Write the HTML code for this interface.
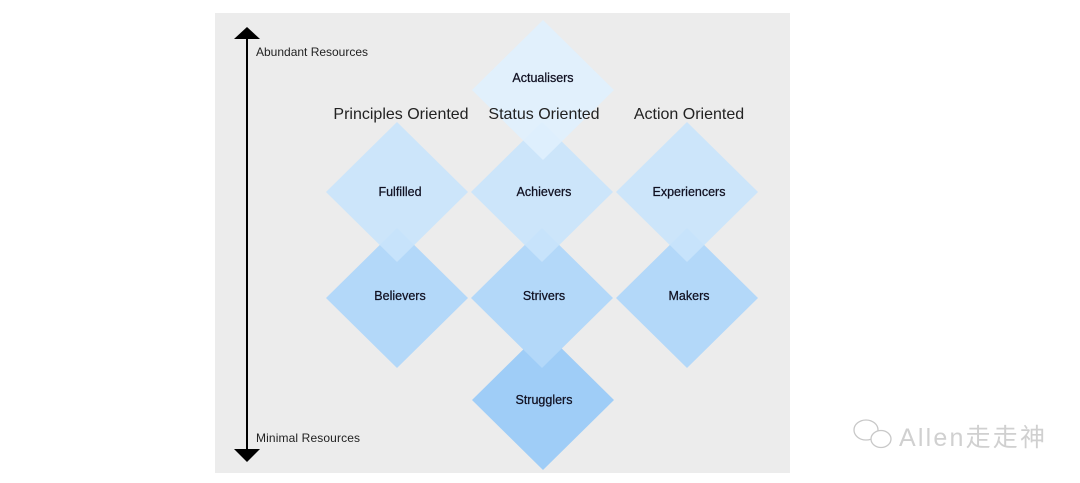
<!DOCTYPE html>
<html><head><meta charset="utf-8"><style>
html,body{margin:0;padding:0;background:#fff;width:1080px;height:483px;overflow:hidden}
</style></head><body>
<svg width="1080" height="483" viewBox="0 0 1080 483" xmlns="http://www.w3.org/2000/svg" font-family="'Liberation Sans', sans-serif">
<rect x="215" y="13" width="575" height="460" fill="#ececec"/>
<polygon points="543,330 614,400 543,470 472,400" fill="#9fcdf7"/>
<polygon points="397,228 468,298 397,368 326,298" fill="#b3d8f9"/>
<polygon points="542,228 613,298 542,368 471,298" fill="#b3d8f9"/>
<polygon points="687,228 758,298 687,368 616,298" fill="#b3d8f9"/>
<polygon points="397,122 468,192 397,262 326,192" fill="#c9e4fb" opacity="0.92"/>
<polygon points="542,122 613,192 542,262 471,192" fill="#c9e4fb" opacity="0.92"/>
<polygon points="687,122 758,192 687,262 616,192" fill="#c9e4fb" opacity="0.92"/>
<polygon points="543,20 614,90 543,160 472,90" fill="#e0f0fd" opacity="0.92"/>
<line x1="247" y1="38" x2="247" y2="452" stroke="#000" stroke-width="2"/>
<polygon points="247,27 260,39 234,39" fill="#000"/>
<polygon points="247,462 260,449 234,449" fill="#000"/>
<g font-size="12" fill="#222">
<text x="256" y="56" textLength="112">Abundant Resources</text>
<text x="256" y="442" textLength="104">Minimal Resources</text>
</g>
<g font-size="16" fill="#222" text-anchor="middle">
<text x="401" y="119">Principles Oriented</text>
<text x="544" y="119">Status Oriented</text>
<text x="689" y="119">Action Oriented</text>
</g>
<g font-size="12.5" fill="#111122" text-anchor="middle" stroke="#111122" stroke-width="0.25">
<text x="543" y="82">Actualisers</text>
<text x="400" y="196">Fulfilled</text>
<text x="544" y="196">Achievers</text>
<text x="689" y="196">Experiencers</text>
<text x="400" y="300">Believers</text>
<text x="544" y="300">Strivers</text>
<text x="689" y="300">Makers</text>
<text x="544" y="404">Strugglers</text>
</g>
<g fill="none" stroke="#c8c8c8" stroke-width="1.3">
<ellipse cx="866" cy="430" rx="12" ry="10"/>
<ellipse cx="881" cy="439" rx="10" ry="8.5" fill="#fff"/>
</g>
<text x="899" y="446" font-size="25" fill="#d0d0d0" textLength="146" font-family="'Liberation Sans','Noto Sans CJK SC',sans-serif">Allen走走神</text>
</svg>
</body></html>
